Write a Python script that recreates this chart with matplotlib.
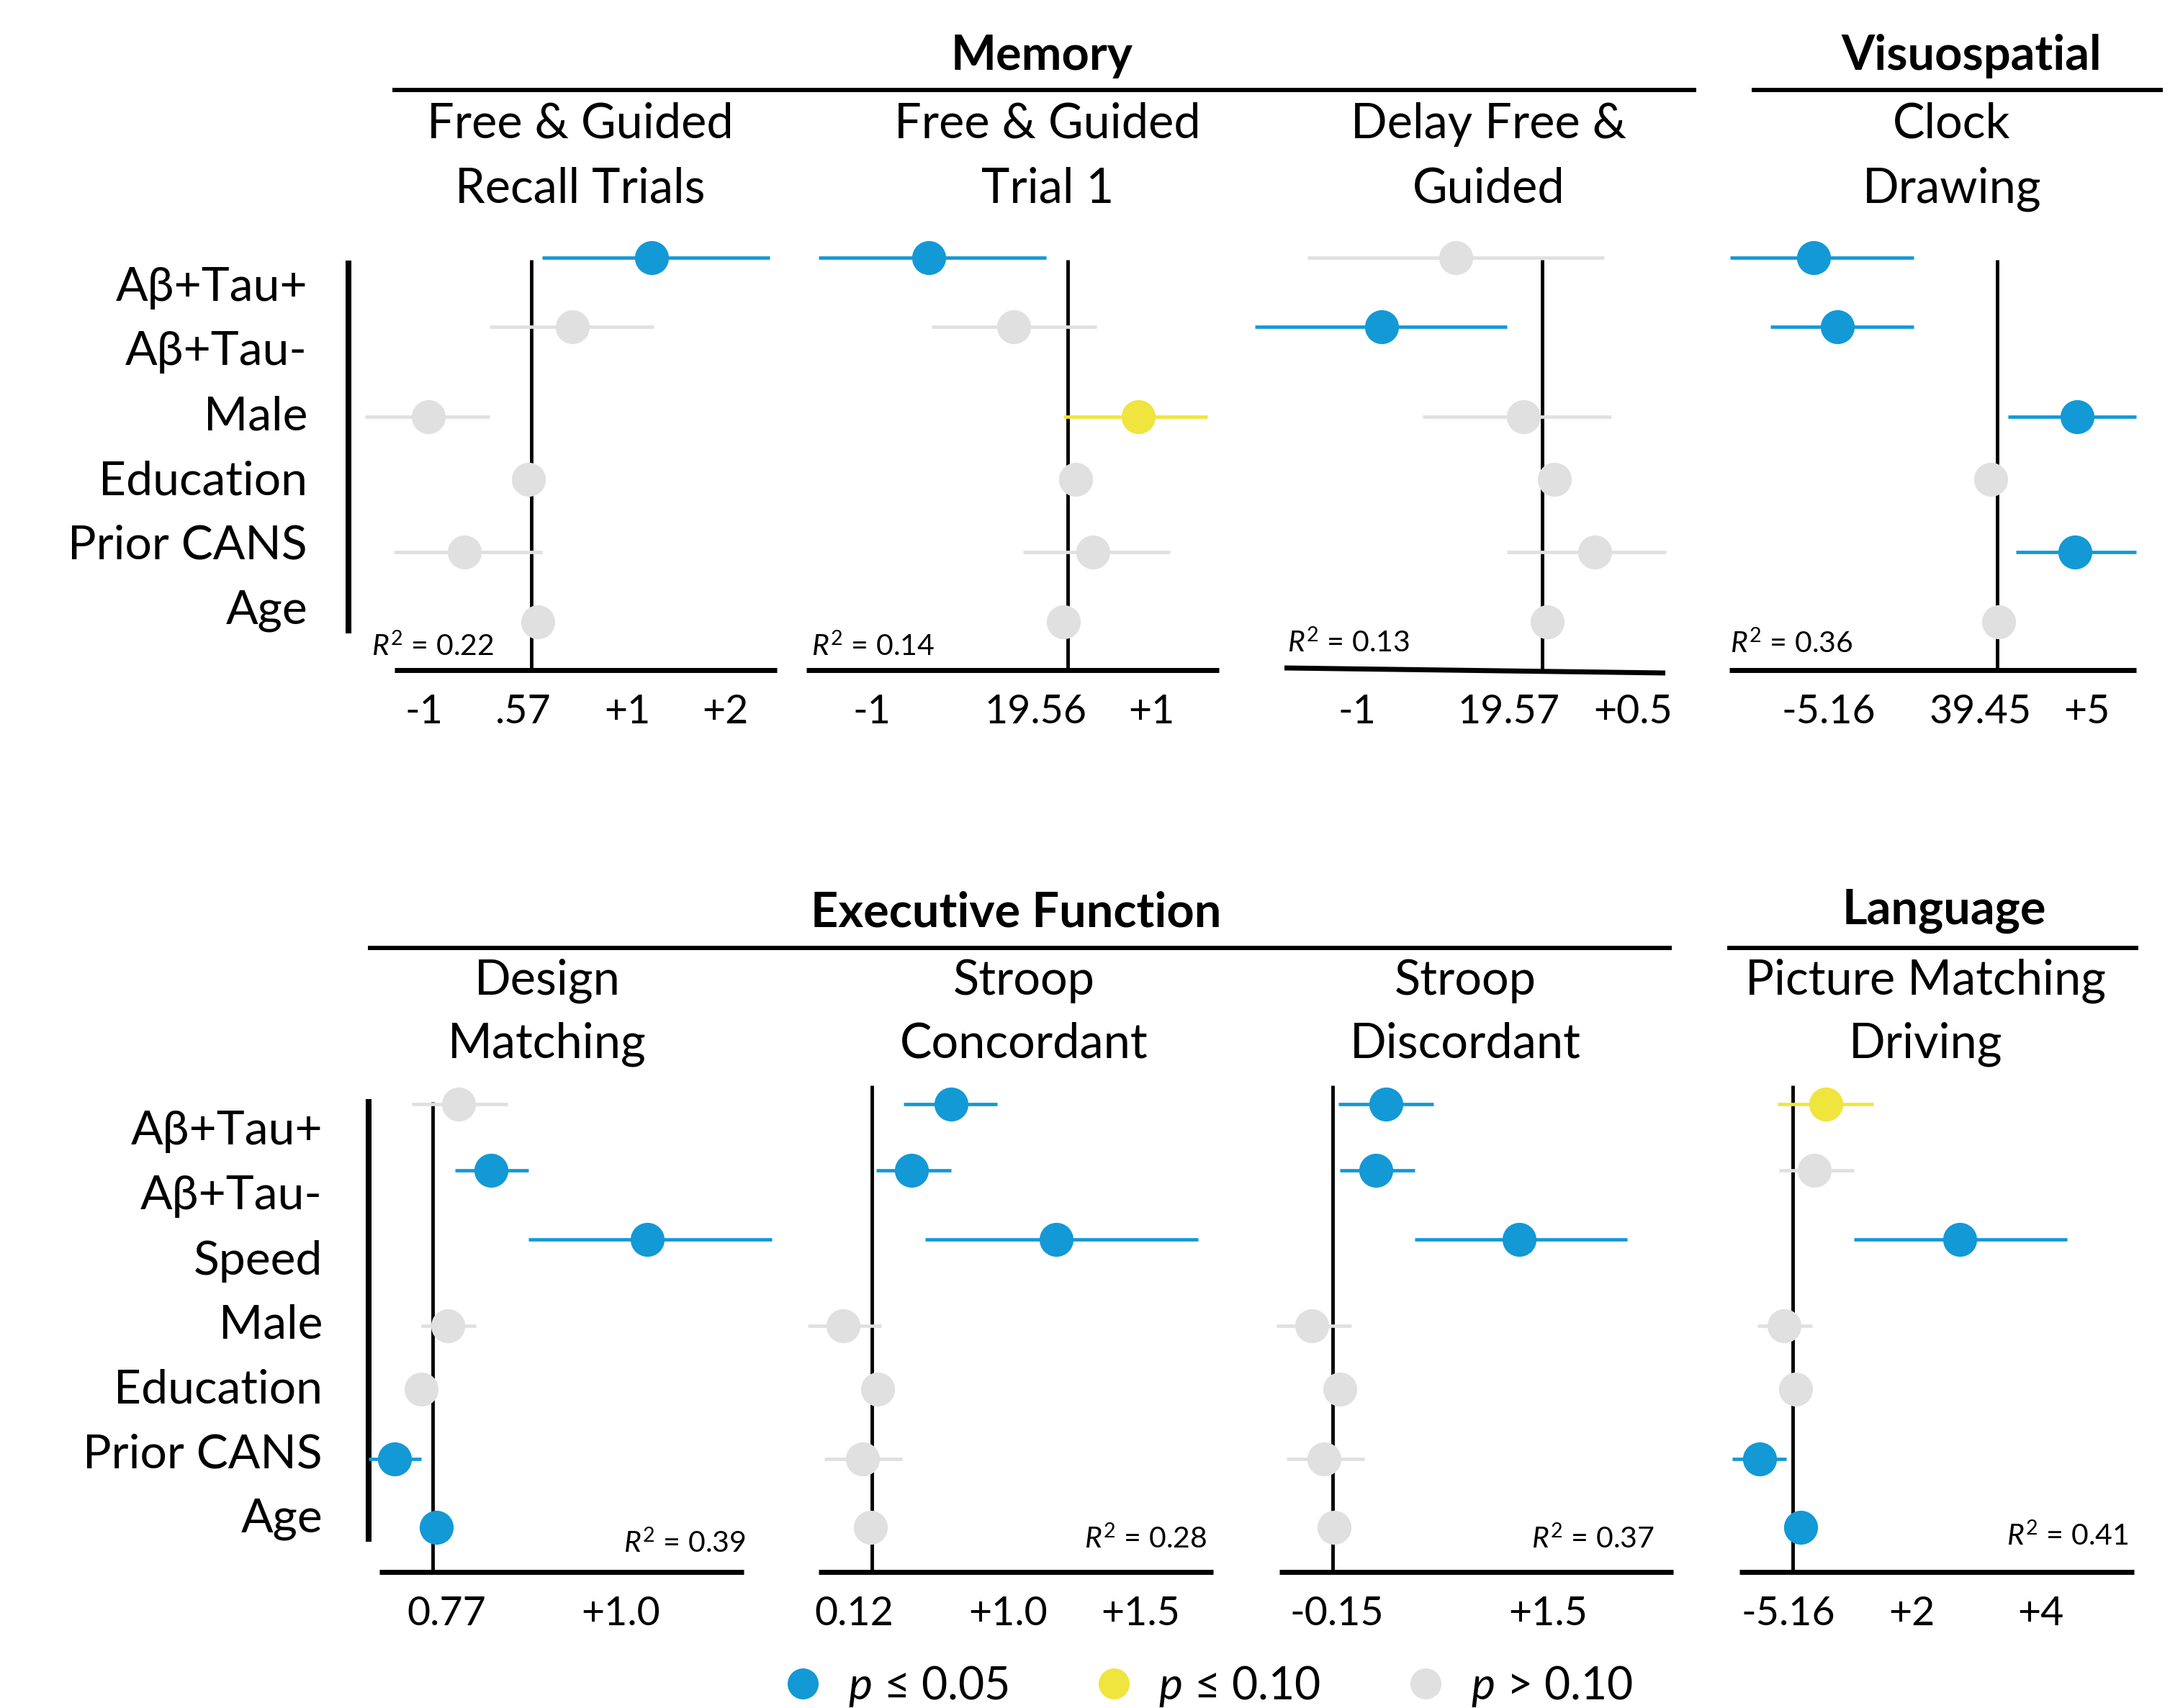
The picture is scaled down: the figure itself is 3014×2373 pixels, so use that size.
import numpy as np
import matplotlib
matplotlib.use("Agg")
import matplotlib.pyplot as plt
from matplotlib.lines import Line2D

plt.rcParams['font.family'] = ['Lato', 'DejaVu Sans']
plt.rcParams['mathtext.fontset'] = 'custom'
plt.rcParams['mathtext.rm'] = 'Lato'
plt.rcParams['mathtext.it'] = 'Lato:italic'
plt.rcParams['mathtext.bf'] = 'Lato:bold'

nan = np.nan

# ---------------- data ----------------
top_predictors = ["Aβ+Tau+", "Aβ+Tau-", "Male", "Education", "Prior CANS", "Age"]
bottom_predictors = ["Aβ+Tau+", "Aβ+Tau-", "Speed", "Male", "Education", "Prior CANS", "Age"]

domains_top = ["Memory", "Visuospatial"]
domains_bottom = ["Executive Function", "Language"]

titles = [
    ["Free & Guided", "Recall Trials"],
    ["Free & Guided", "Trial 1"],
    ["Delay Free &", "Guided"],
    ["Clock", "Drawing"],
    ["Design", "Matching"],
    ["Stroop", "Concordant"],
    ["Stroop", "Discordant"],
    ["Picture Matching", "Driving"],
]

# estimates / confidence limits (panel units, 0 = reference line)
est = [
    [1.24, 0.42, -1.06, -0.03, -0.69, 0.07],
    [-1.67, -0.65, 0.84, 0.09, 0.30, -0.06],
    [-0.47, -0.875, -0.10, 0.07, 0.29, 0.03],
    [-10.23, -8.9, 4.46, -0.36, 4.35, 0.08],
    [0.14, 0.31, 1.14, 0.08, -0.06, -0.20, 0.02],
    [0.58, 0.29, 1.35, -0.21, 0.04, -0.07, -0.01],
    [0.37, 0.30, 1.30, -0.145, 0.05, -0.06, 0.01],
    [0.53, 0.35, 2.69, -0.14, 0.05, -0.54, 0.13],
]
ci_low = [
    [0.11, -0.43, -1.71, nan, -1.41, nan],
    [-2.99, -1.63, -0.06, nan, -0.54, nan],
    [-1.28, -1.57, -0.65, nan, -0.19, nan],
    [-14.9, -12.66, 0.6, nan, 1.06, nan],
    [-0.11, 0.12, 0.51, -0.06, nan, -0.34, nan],
    [0.23, 0.03, 0.39, -0.47, nan, -0.35, nan],
    [0.04, 0.05, 0.57, -0.39, nan, -0.32, nan],
    [-0.24, -0.22, 0.99, -0.57, nan, -0.98, nan],
]
ci_high = [
    [2.45, 1.26, -0.43, nan, 0.11, nan],
    [-0.26, 0.34, 1.67, nan, 1.22, nan],
    [0.34, -0.19, 0.38, nan, 0.68, nan],
    [-4.66, -4.66, 7.74, nan, 7.74, nan],
    [0.40, 0.51, 1.80, 0.23, nan, -0.06, nan],
    [0.92, 0.58, 2.39, 0.07, nan, 0.22, nan],
    [0.70, 0.57, 2.05, 0.13, nan, 0.22, nan],
    [1.30, 0.99, 4.42, 0.31, nan, -0.10, nan],
]
# significance: 'p05', 'p10', 'ns'
sig = [
    ['p05', 'ns', 'ns', 'ns', 'ns', 'ns'],
    ['p05', 'ns', 'p10', 'ns', 'ns', 'ns'],
    ['ns', 'p05', 'ns', 'ns', 'ns', 'ns'],
    ['p05', 'p05', 'p05', 'ns', 'p05', 'ns'],
    ['ns', 'p05', 'p05', 'ns', 'ns', 'p05', 'p05'],
    ['p05', 'p05', 'p05', 'ns', 'ns', 'ns', 'ns'],
    ['p05', 'p05', 'p05', 'ns', 'ns', 'ns', 'ns'],
    ['p10', 'ns', 'p05', 'ns', 'ns', 'p05', 'p05'],
]
tick_vals = [
    [-1.10, -0.08, 0.99, 2.0],
    [-2.35, -0.39, 1.0],
    [-1.01, -0.18, 0.5],
    [-9.42, -0.93, 5.0],
    [0.075, 1.0],
    [-0.13, 1.0, 1.97],
    [0.03, 1.5],
    [-0.07, 1.92, 4.0],
]
tick_labels = [
    ["-1", ".57", "+1", "+2"],
    ["-1", "19.56", "+1"],
    ["-1", "19.57", "+0.5"],
    ["-5.16", "39.45", "+5"],
    ["0.77", "+1.0"],
    ["0.12", "+1.0", "+1.5"],
    ["-0.15", "+1.5"],
    ["-5.16", "+2", "+4"],
]
r2 = [0.22, 0.14, 0.13, 0.36, 0.39, 0.28, 0.37, 0.41]

legend_labels = [r"$\mathit{p}$ ≤ 0.05", r"$\mathit{p}$ ≤ 0.10", r"$\mathit{p}$ > 0.10"]

# ---------------- layout (pixels of the 3014 x 2373 canvas) ----------------
W, H = 3014, 2373
BLUE, YELLOW, GREY = '#1399d6', '#f0e43f', '#e0e0e0'
colors = {'p05': BLUE, 'p10': YELLOW, 'ns': GREY}

# per panel: zero line x, px per unit, axis left, axis right, zero-line top, slant (l, r)
panel_geom = [
    (737.8, 135.0, 548, 1079, 361, (0, 0)),
    (1483.5, 116.0, 1120, 1693, 361, (0, 0)),
    (2141.5, 254.0, 1784, 2313, 361, (3, -4)),
    (2774.0, 24.9, 2402, 2967, 361, (0, 0)),
    (600.6, 262.0, 527, 1033, 1531, (0, 0)),
    (1211.0, 189.5, 1137, 1685, 1508, (0, 0)),
    (1850.7, 199.8, 1777, 2324, 1508, (0, 0)),
    (2490.0, 86.1, 2416, 2964, 1508, (0, 0)),
]
# rows: first row px, px per row step, axes top, axes bottom, row positions
row_geom = {
    'top': (358, 100.0, 330, 931, [0, 0.96, 2.21, 3.08, 4.09, 5.06]),
    'bottom': (1534, 97.0, 1490, 2184, [0, 0.95, 1.94, 3.18, 4.08, 5.08, 6.06]),
}
title_x = [806, 1455, 2068, 2711, 760, 1422, 2035, 2675]
r2_pos = [(516, 898, 'left'), (1127, 898, 'left'), (1788, 893, 'left'), (2403, 894, 'left'),
          (1036, 2144, 'right'), (1676, 2138, 'right'), (2298, 2138, 'right'), (2956, 2134, 'right')]

fig = plt.figure(figsize=(W / 100, H / 100), dpi=100)
fig.patch.set_facecolor('white')

bg = fig.add_axes([0, 0, 1, 1])
bg.set_xlim(0, W)
bg.set_ylim(H, 0)
bg.axis('off')

# domain headers with rules
header_specs = [
    (domains_top[0], 1447, 97, 545, 2356, 125),
    (domains_top[1], 2738, 97, 2433, 3004, 125),
    (domains_bottom[0], 1411, 1288, 511, 2322, 1317),
    (domains_bottom[1], 2700, 1284, 2399, 2970, 1317),
]
for name, cx, base, x1, x2, ly in header_specs:
    bg.text(cx, base, name, ha='center', va='baseline', fontsize=48, fontweight='bold')
    bg.plot([x1, x2], [ly, ly], color='black', lw=4.3, solid_capstyle='butt')

# sub-titles
for i, lines in enumerate(titles):
    b1, b2 = (192, 281) if i < 4 else (1382, 1470)
    bg.text(title_x[i], b1, lines[0], ha='center', va='baseline', fontsize=48)
    bg.text(title_x[i], b2, lines[1], ha='center', va='baseline', fontsize=48)

# predictor labels and left bars
top_label_y = np.linspace(400, 848, len(top_predictors))
for lab, y in zip(top_predictors, top_label_y):
    bg.text(427, y, lab, ha='right', va='center', fontsize=47.5)
bottom_label_y = np.linspace(1573, 2110, len(bottom_predictors))
for lab, y in zip(bottom_predictors, bottom_label_y):
    bg.text(448, y, lab, ha='right', va='center', fontsize=47.5)
bg.plot([484, 484], [362, 880], color='black', lw=5.8, solid_capstyle='butt')
bg.plot([512, 512], [1527, 2142], color='black', lw=5.8, solid_capstyle='butt')

# R^2 annotations
for val, (x, y, ha) in zip(r2, r2_pos):
    bg.text(x, y, r"$\mathit{R}^{2}$" + f" = {val:.2f}", ha=ha, va='center', fontsize=29.5)

# forest panels
for i in range(len(est)):
    x0, unit, left, right, ztop, slant = panel_geom[i]
    row = 'top' if i < 4 else 'bottom'
    r0, step, atop, abot, rows = row_geom[row]
    ax = fig.add_axes([left / W, 1 - abot / H, (right - left) / W, (abot - atop) / H])
    ax.patch.set_alpha(0)
    ax.set_xlim((left - x0) / unit, (right - x0) / unit)
    ax.set_ylim((abot - r0) / step, (atop - r0) / step)
    for s in ax.spines.values():
        s.set_visible(False)

    ax.vlines(0, (ztop - r0) / step, (abot - r0) / step, color='black', lw=3.5, zorder=1)
    h = abot - atop
    ax.plot([0, 1], [slant[0] / h, slant[1] / h], transform=ax.transAxes,
            color='black', lw=5, solid_capstyle='butt', clip_on=False, zorder=3)

    for y, e, lo, hi, s in zip(rows, est[i], ci_low[i], ci_high[i], sig[i]):
        c = colors[s]
        if not np.isnan(lo):
            ax.hlines(y, lo, hi, color=c, lw=3.4, zorder=2, clip_on=False)
        ax.plot(e, y, marker='o', ms=34, color=c, mec='none', ls='none', zorder=4, clip_on=False)

    ax.set_yticks([])
    ax.set_xticks(tick_vals[i], tick_labels[i], fontsize=40)
    ax.tick_params(axis='x', length=0, pad=23.5)

# legend
handles = [Line2D([], [], marker='o', ls='none', color=colors[k], mec='none', markersize=31)
           for k in ['p05', 'p10', 'ns']]
fig.legend(handles, legend_labels, loc='center', bbox_to_anchor=(1676 / W, 1 - 2343 / H),
           ncol=3, frameon=False, fontsize=45, handlelength=1.0, handletextpad=0.5,
           columnspacing=1.84)

fig.savefig('out.png', dpi=100, facecolor='white')
